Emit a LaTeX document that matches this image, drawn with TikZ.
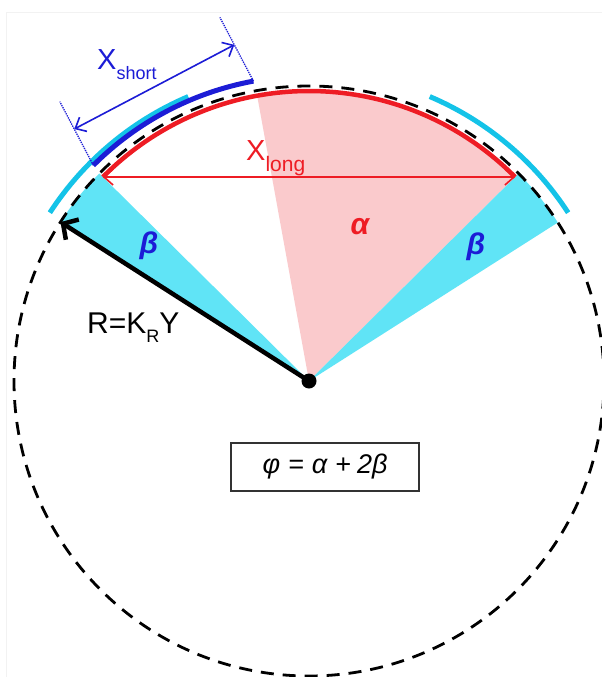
\documentclass[tikz,border=0pt]{standalone}
\usepackage{fontspec}
\setmainfont{Liberation Sans}
\usetikzlibrary{arrows.meta,calc}
\definecolor{pinkc}{RGB}{250,202,204}
\definecolor{cyanw}{RGB}{96,228,246}
\definecolor{cyanA}{RGB}{20,195,232}
\definecolor{redc}{RGB}{238,28,36}
\definecolor{bluec}{RGB}{28,28,214}
\tikzset{
  dimarrow/.style={line width=1.6, {Straight Barb[length=9,width=16]}-{Straight Barb[length=9,width=16]}},
  extline/.style={bluec, line width=1.3, densely dotted},
  lbl/.style={inner sep=0, anchor=base west},
  greek/.style={inner sep=0, font=\fontsize{30}{30}\selectfont\bfseries\itshape},
  circdash/.style={line width=2.8, dash pattern=on 13 off 9},
}
\begin{document}
\begin{tikzpicture}[x=1pt,y=1pt]
\useasboundingbox (0,0) rectangle (602,-677);
\fill[white] (0,0) rectangle (602,-677);
\draw[black!5, line width=0.8] (6,-677) -- (6,-12) -- (602,-12);
\begin{scope}[shift={(309,-381)}]
  \coordinate (O) at (0,0);
  \coordinate (L) at (135.3:290);
  \coordinate (Rt) at (44.7:290);
  \coordinate (T) at (147.4:295);
  \coordinate (B1) at (135:305);
  \coordinate (B2) at (100.5:305);
  \coordinate (E1) at ($(B1)+(117.75:72)$);
  \coordinate (E2) at ($(B2)+(117.75:72)$);
  \coordinate (A1) at ($(B1)+(117.75:41)$);
  \coordinate (A2) at ($(B2)+(117.75:41)$);
  % sectors
  \fill[pinkc] (O) -- (44.7:290) arc[start angle=44.7, end angle=100.3, radius=290] -- cycle;
  \fill[cyanw] (O) -- (32.5:295) arc[start angle=32.5, end angle=44.7, radius=295] -- cycle;
  \fill[cyanw] (O) -- (135.3:295) arc[start angle=135.3, end angle=147.5, radius=295] -- cycle;
  % dashed circle
  \draw[circdash] (O) circle[radius=295];
  % red arc
  \draw[redc, line width=4.5] (Rt) arc[start angle=44.7, end angle=135.3, radius=290];
  % outer cyan arcs
  \draw[cyanA, line width=5] (33:309) arc[start angle=33, end angle=67, radius=309];
  \draw[cyanA, line width=5] (113:309) arc[start angle=113, end angle=147, radius=309];
  % blue arc
  \draw[bluec, line width=5] (B2) arc[start angle=100.5, end angle=135, radius=305];
  % extension lines and dimension arrow
  \draw[extline] (B1) -- (E1);
  \draw[extline] (B2) -- (E2);
  \draw[bluec, dimarrow] (A1) -- (A2);
  % red chord arrow
  \draw[redc, dimarrow] (L) -- (Rt);
  % radius arrow
  \draw[line width=4.5, -{Straight Barb[length=11,width=24]}] (O) -- (T);
  \fill (O) circle[radius=7.5];
\end{scope}
% labels
\node[lbl, bluec, font=\fontsize{29}{29}\selectfont] (xs) at (97,-70) {X\raisebox{-10pt}{\fontsize{18}{18}\selectfont short}};
\node[lbl, redc, font=\fontsize{29}{29}\selectfont] (xl) at (246,-160) {X\raisebox{-11pt}{\fontsize{21}{21}\selectfont long}};
\node[greek, redc] (al) at (360,-227) {α};
\node[greek, bluec] (bl) at (149,-246) {β};
\node[greek, bluec] (br) at (476,-247) {β};
\node[lbl, font=\fontsize{30}{30}\selectfont] (rk) at (87,-333) {R=K\raisebox{-9pt}{\fontsize{18}{18}\selectfont R}Y};
\node[draw=black!80, line width=1.4, minimum width=188, minimum height=48, inner sep=0,
      font=\fontsize{27}{27}\selectfont\itshape] (phi) at (325,-467)
      {φ\hspace{8pt}=\hspace{8pt}α\hspace{8pt}+\hspace{6pt}2β};
\end{tikzpicture}
\end{document}
